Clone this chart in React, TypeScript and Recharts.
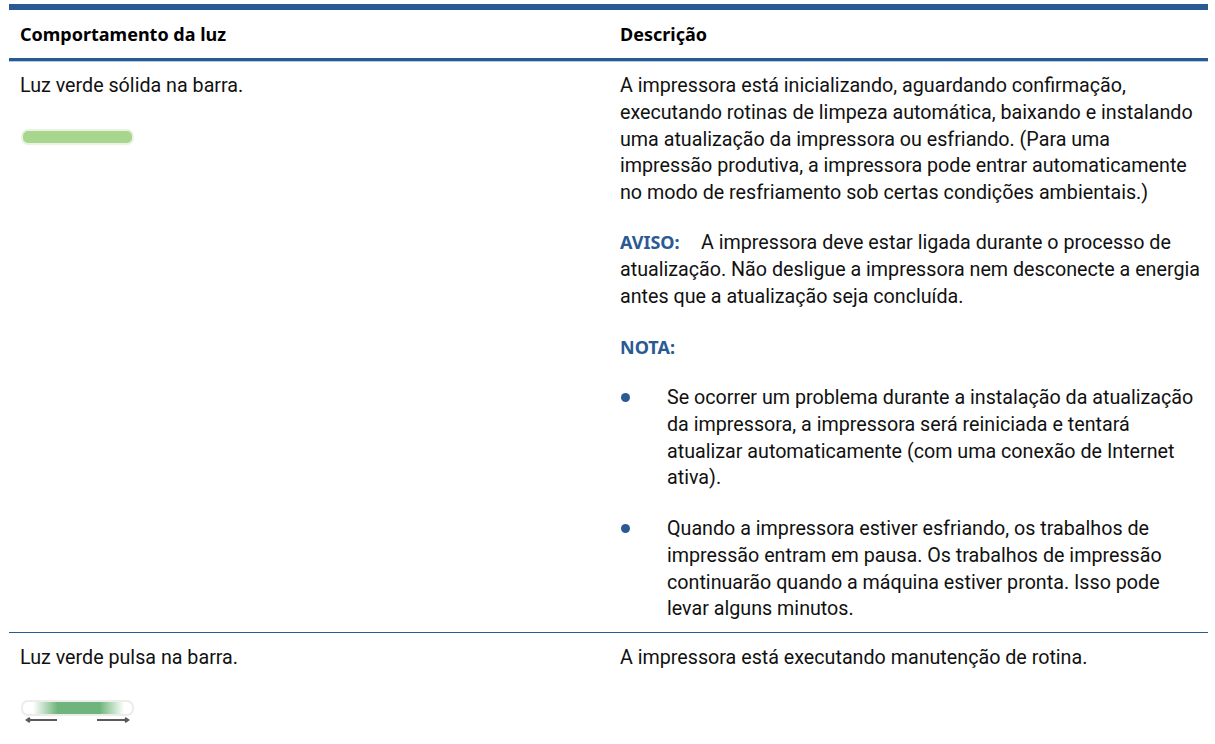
import { Bar, BarChart, Cell, XAxis, YAxis } from 'recharts';

const BODY_FONT = 'Roboto, sans-serif';
const HEAD_FONT = '"Noto Sans", sans-serif';
const BLUE = '#2a5a94';

const headers = ['Comportamento da luz', 'Descrição'];
const lightLabels = ['Luz verde sólida na barra.', 'Luz verde pulsa na barra.'];
const lightValues = [100, 100];
const lightFills = ['#a8d68f', 'url(#pulse)'];
const lightStrokes = ['#e8f3e0', '#ececec'];

const introLines = [
  'A impressora está inicializando, aguardando confirmação,',
  'executando rotinas de limpeza automática, baixando e instalando',
  'uma atualização da impressora ou esfriando. (Para uma',
  'impressão produtiva, a impressora pode entrar automaticamente',
  'no modo de resfriamento sob certas condições ambientais.)',
];
const avisoLines = [
  'atualização. Não desligue a impressora nem desconecte a energia',
  'antes que a atualização seja concluída.',
];
const bulletOne = [
  'Se ocorrer um problema durante a instalação da atualização',
  'da impressora, a impressora será reiniciada e tentará',
  'atualizar automaticamente (com uma conexão de Internet',
  'ativa).',
];
const bulletTwo = [
  'Quando a impressora estiver esfriando, os trabalhos de',
  'impressão entram em pausa. Os trabalhos de impressão',
  'continuarão quando a máquina estiver pronta. Isso pode',
  'levar alguns minutos.',
];

function LightBar({ index }: { index: number }) {
  const row = [{ name: lightLabels[index], value: lightValues[index] }];
  return (
    <BarChart width={117} height={20} data={row} layout="vertical" barCategoryGap={0} margin={{ top: 3, right: 3, bottom: 3, left: 3 }}>
      <defs>
        <linearGradient id="pulse" x1="0" x2="1" y1="0" y2="0">
          <stop offset="0.1" stopColor="#ffffff" />
          <stop offset="0.32" stopColor="#6fb57b" />
          <stop offset="0.7" stopColor="#6fb57b" />
          <stop offset="0.92" stopColor="#ffffff" />
        </linearGradient>
      </defs>
      <XAxis type="number" domain={[0, 100]} hide />
      <YAxis type="category" dataKey="name" hide />
      <Bar dataKey="value" radius={6} stroke={lightStrokes[index]} strokeWidth={2} isAnimationActive={false}>
        <Cell fill={lightFills[index]} />
      </Bar>
    </BarChart>
  );
}

function Block({ lines, left, top }: { lines: string[]; left: number; top: number }) {
  return (
    <div style={{ position: 'absolute', left, top, lineHeight: '26.8px', whiteSpace: 'nowrap' }}>
      {lines.map((l) => (
        <div key={l}>{l}</div>
      ))}
    </div>
  );
}

function Head({ text, left }: { text: string; left: number }) {
  return (
    <div style={{ position: 'absolute', left, top: 21, fontFamily: HEAD_FONT, fontSize: 18, fontWeight: 700, lineHeight: '26px', color: '#000' }}>
      {text}
    </div>
  );
}

function Label({ text, top }: { text: string; top: number }) {
  return (
    <div style={{ position: 'absolute', left: 620, top, fontFamily: HEAD_FONT, fontSize: 18, fontWeight: 700, lineHeight: '26px', color: BLUE }}>
      {text}
    </div>
  );
}

function Dot({ top }: { top: number }) {
  return <div style={{ position: 'absolute', left: 621, top, width: 9, height: 9, borderRadius: 5, background: BLUE }} />;
}

export default function App() {
  return (
    <div style={{ position: 'absolute', left: 0, top: 0, width: 1215, height: 744, overflow: 'hidden', background: '#fff', fontFamily: BODY_FONT, fontSize: 19.7, color: '#111' }}>
      <div style={{ position: 'absolute', left: 9, top: 4, width: 1199, height: 6, background: BLUE }} />
      <div style={{ position: 'absolute', left: 9, top: 58, width: 1199, height: 3, background: BLUE, borderBottom: '1px solid #b9c9dd' }} />
      <div style={{ position: 'absolute', left: 9, top: 632, width: 1199, height: 1, background: BLUE }} />

      <Head text={headers[0]} left={20} />
      <Head text={headers[1]} left={620} />

      <Block lines={[lightLabels[0]]} left={20} top={73} />
      <div style={{ position: 'absolute', left: 19, top: 127 }}><LightBar index={0} /></div>

      <Block lines={introLines} left={620} top={73} />
      <Label text="AVISO:" top={229} />
      <Block lines={['A impressora deve estar ligada durante o processo de']} left={701} top={230} />
      <Block lines={avisoLines} left={620} top={257} />
      <Label text="NOTA:" top={334} />

      <Dot top={393} />
      <Block lines={bulletOne} left={667} top={385} />
      <Dot top={524} />
      <Block lines={bulletTwo} left={667} top={516} />

      <Block lines={[lightLabels[1]]} left={20} top={645} />
      <Block lines={['A impressora está executando manutenção de rotina.']} left={620} top={645} />
      <div style={{ position: 'absolute', left: 19, top: 698 }}><LightBar index={1} /></div>
      <svg width={140} height={12} style={{ position: 'absolute', left: 0, top: 715 }}>
        <path d="M28 5 L57 5 M30 3 L27 5 L30 7 M97 5 L127 5 M125 3 L128 5 L125 7" stroke="#5a5a5a" strokeWidth={2.2} fill="none" />
      </svg>
    </div>
  );
}
